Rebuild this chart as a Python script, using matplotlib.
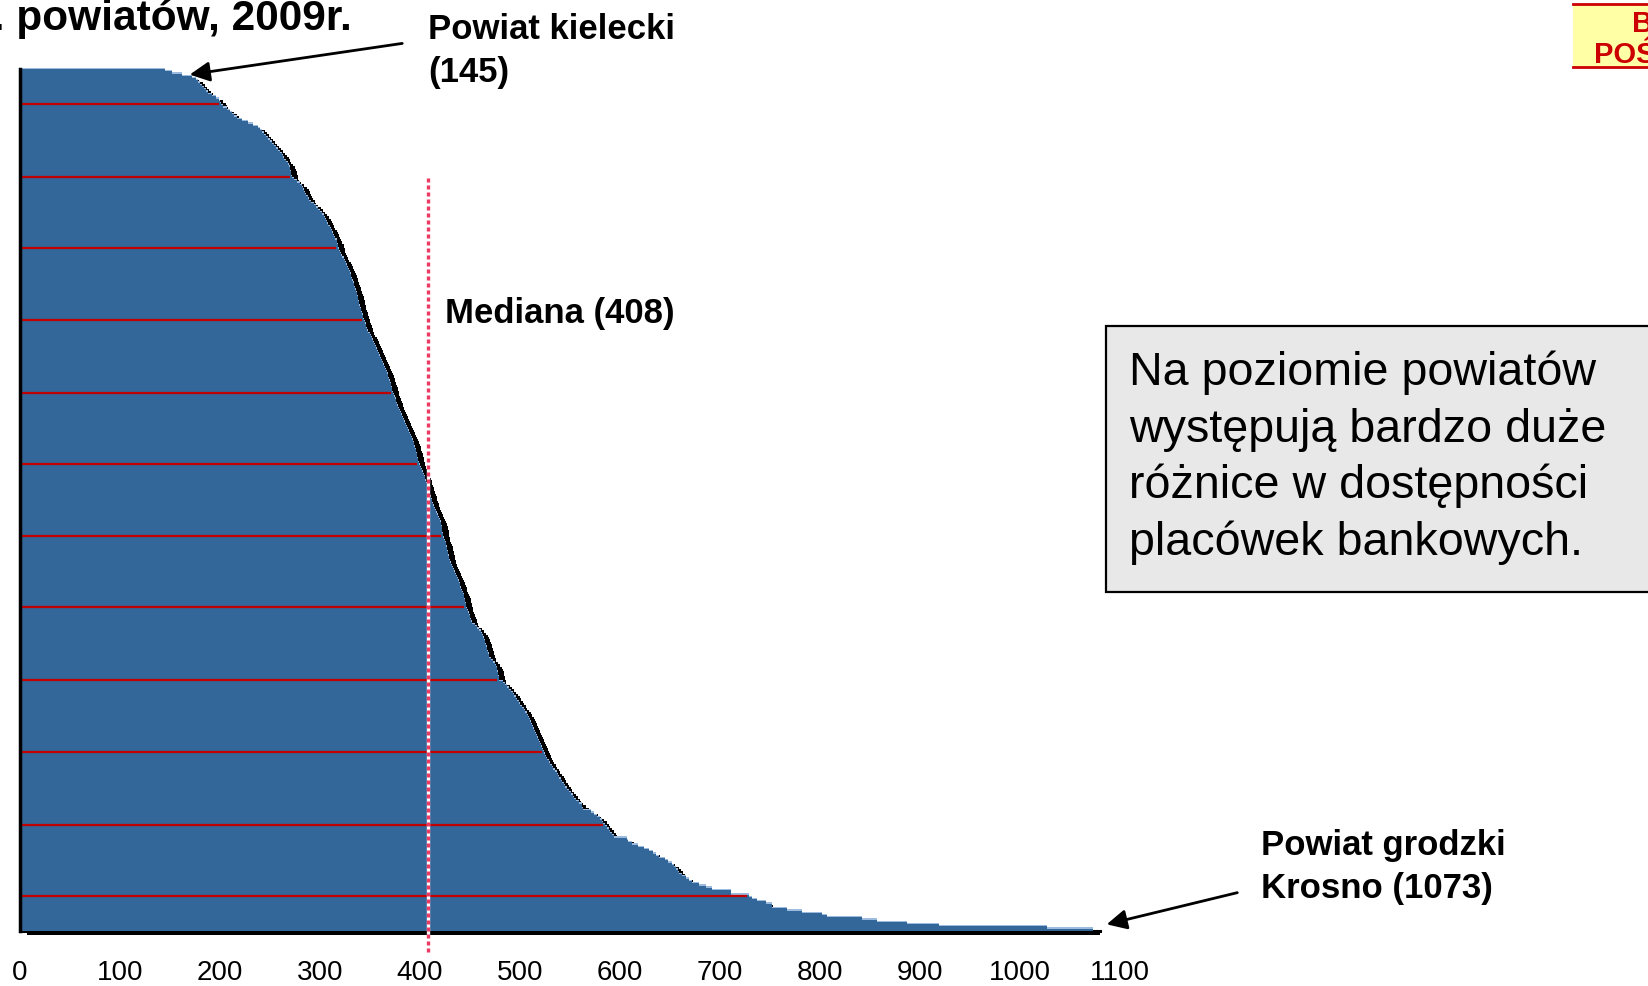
import matplotlib
matplotlib.use("Agg")
import matplotlib.pyplot as plt
from matplotlib import transforms, font_manager
from matplotlib.patches import Rectangle
import numpy as np

# ---------------- data ----------------
# one bar per powiat, sorted ascending (top = lowest value)
values = [
    145, 152, 162, 172, 176, 178, 180, 182, 184, 186,
    188, 192, 196, 199, 200, 201, 203, 207, 210, 212,
    214, 217, 222, 228, 233, 238, 240, 242, 244, 246,
    248, 250, 252, 254, 256, 258, 260, 262, 263, 264,
    266, 268, 269, 270, 270, 271, 271, 272, 274, 277,
    280, 282, 283, 284, 285, 286, 288, 289, 291, 294,
    296, 298, 300, 302, 304, 305, 306, 307, 308, 310,
    311, 312, 313, 314, 315, 317, 317, 318, 318, 319,
    320, 321, 322, 324, 325, 326, 327, 328, 329, 330,
    331, 331, 332, 333, 334, 334, 335, 336, 337, 337,
    338, 338, 339, 339, 340, 341, 341, 342, 343, 343,
    344, 345, 346, 346, 347, 348, 350, 351, 352, 353,
    354, 355, 356, 357, 358, 359, 360, 361, 362, 363,
    364, 365, 366, 367, 368, 368, 369, 370, 371, 371,
    372, 372, 373, 374, 375, 376, 376, 377, 378, 379,
    380, 381, 382, 383, 384, 385, 386, 387, 388, 389,
    390, 391, 392, 393, 394, 394, 395, 396, 396, 397,
    397, 398, 398, 399, 400, 401, 402, 403, 404, 405,
    405, 406, 407, 407, 408, 409, 410, 410, 411, 412,
    412, 413, 414, 415, 416, 417, 418, 419, 420, 421,
    421, 422, 422, 422, 423, 423, 424, 425, 426, 426,
    427, 427, 428, 428, 429, 429, 430, 431, 432, 433,
    434, 435, 436, 437, 438, 439, 440, 440, 441, 442,
    443, 444, 444, 445, 445, 446, 446, 447, 448, 449,
    450, 450, 451, 452, 455, 457, 459, 461, 462, 463,
    464, 465, 465, 466, 467, 467, 468, 469, 469, 471,
    473, 475, 476, 477, 477, 478, 478, 479, 479, 483,
    485, 487, 489, 491, 493, 494, 496, 497, 499, 500,
    502, 504, 505, 507, 508, 509, 510, 511, 512, 513,
    514, 515, 516, 517, 518, 519, 520, 521, 522, 523,
    524, 525, 526, 527, 529, 530, 532, 533, 535, 537,
    538, 539, 541, 542, 544, 545, 547, 549, 551, 553,
    554, 556, 559, 562, 562, 563, 571, 574, 577, 580,
    582, 583, 585, 587, 589, 590, 592, 594, 607, 608,
    612, 618, 624, 629, 633, 636, 639, 645, 648, 652,
    654, 656, 658, 659, 662, 666, 669, 672, 679, 686,
    692, 711, 711, 729, 732, 737, 746, 752, 752, 767,
    782, 802, 807, 842, 857, 887, 919, 1027, 1073,
]
# bars marked with a red line
marked_bars = [15, 47, 78, 110, 142, 173, 205, 236, 268, 300, 332, 363]
x_ticks = [0, 100, 200, 300, 400, 500, 600, 700, 800, 900, 1000, 1100]
median_value = 408

title_text = "Liczba mieszkańców na 1 placówkę bankową wg jedn. powiatów, 2009r."
min_label = ["Powiat kielecki", "(145)"]
max_label = ["Powiat grodzki", "Krosno (1073)"]
median_label = "Mediana (408)"
box_lines = ["Na poziomie powiatów", "występują bardzo duże",
             "różnice w dostępności", "placówek bankowych."]
corner_lines = ["BANKOWOŚĆ", "POŚREDNICTWO"]

# ---------------- fonts ----------------
names = {f.name for f in font_manager.fontManager.ttflist}
BASE = "Liberation Sans" if "Liberation Sans" in names else "DejaVu Sans"
plt.rcParams["font.family"] = [BASE, "DejaVu Sans"]

# ---------------- figure ----------------
W, H = 1648, 987
fig = plt.figure(figsize=(W / 100, H / 100), dpi=100)
fig.patch.set_facecolor("white")

def fx(px):
    return px / W

def fy(py):
    return 1 - py / H

ax = fig.add_axes([fx(20), (H - 932) / H, 1100 / W, 862 / H])
n = len(values)
idx = np.arange(n)

shadow_tr = transforms.offset_copy(ax.transData, fig=fig, x=7, y=-4, units="dots")
hl_tr = transforms.offset_copy(ax.transData, fig=fig, x=0, y=1.3, units="dots")

ax.barh(idx, values, height=1.0, color="black", linewidth=0,
        transform=shadow_tr, zorder=1, clip_on=False, antialiased=False)
ax.barh(idx, values, height=1.0, color="#9dbbdf", linewidth=0,
        transform=hl_tr, zorder=2, clip_on=False, antialiased=False)
ax.barh(idx, values, height=1.0, color="#336699", linewidth=0,
        zorder=3, antialiased=False)

ax.hlines(marked_bars, 0, [values[i] - 2 for i in marked_bars],
          color="#c00000", lw=1.6, zorder=4)

ax.set_xlim(0, 1100)
ax.set_ylim(n - 0.5, -0.5)

# median line
tv = transforms.blended_transform_factory(ax.transData, ax.transAxes)
ax.plot([median_value, median_value], [0.8735, -0.027], transform=tv,
        color="white", lw=2.4, zorder=6, clip_on=False, solid_capstyle="butt")
ax.plot([median_value, median_value], [0.8735, -0.027], transform=tv,
        color="#ee3a62", lw=2.4, zorder=7, clip_on=False,
        linestyle=(0, (1.2, 0.9)), dash_capstyle="butt")

# spines / ticks
for s in ["top", "right"]:
    ax.spines[s].set_visible(False)
ax.spines["left"].set_linewidth(2.5)
ax.spines["left"].set_color("black")
ax.spines["left"].set_zorder(8)
ax.spines["bottom"].set_linewidth(2.2)
ax.spines["bottom"].set_color("black")
ax.spines["bottom"].set_zorder(2.5)
ax.spines["bottom"].set_bounds(0, max(values) + 7)
ax.set_yticks([])
ax.set_xticks(x_ticks)
ax.set_xticklabels([str(t) for t in x_ticks])
ax.tick_params(axis="x", length=0, pad=20, labelsize=20)
ax.set_facecolor("none")

# ---------------- texts ----------------
fig.text(fx(352), fy(30), title_text, ha="right", va="baseline",
         fontsize=30.5, fontweight="bold", color="black")

fig.text(fx(428), fy(39), min_label[0], ha="left", va="baseline",
         fontsize=25, fontweight="bold")
fig.text(fx(428), fy(82), min_label[1], ha="left", va="baseline",
         fontsize=25, fontweight="bold")
fig.text(fx(445), fy(323), median_label, ha="left", va="baseline",
         fontsize=25, fontweight="bold")
fig.text(fx(1261), fy(855), max_label[0], ha="left", va="baseline",
         fontsize=25, fontweight="bold")
fig.text(fx(1261), fy(898), max_label[1], ha="left", va="baseline",
         fontsize=25, fontweight="bold")

# arrows
fig.add_artist(matplotlib.patches.FancyArrowPatch(
    (405, H - 44), (187, H - 76), transform=None,
    arrowstyle="-|>", mutation_scale=30, lw=2.0, color="black"))
fig.add_artist(matplotlib.patches.FancyArrowPatch(
    (1240, H - 893), (1104, H - 926), transform=None,
    arrowstyle="-|>", mutation_scale=30, lw=2.0, color="black"))

# grey text box
fig.add_artist(Rectangle((fx(1106), fy(593)), fx(1680) - fx(1106), fy(327) - fy(593),
                         transform=fig.transFigure, facecolor="#e8e8e8",
                         edgecolor="black", lw=1.6, clip_on=False))
for k, line in enumerate(box_lines):
    fig.text(fx(1129), fy(385 + 56.6 * k), line, ha="left", va="baseline",
             fontsize=33.6, color="black")

# yellow corner box
fig.add_artist(Rectangle((fx(1573), fy(68)), fx(1700) - fx(1573), fy(5) - fy(68),
                         transform=fig.transFigure, facecolor="#ffffa6",
                         edgecolor="none", clip_on=False))
fig.add_artist(matplotlib.lines.Line2D([fx(1573), 1.0], [fy(5), fy(5)],
                                       transform=fig.transFigure, color="#cc0000", lw=2))
fig.add_artist(matplotlib.lines.Line2D([fx(1573), 1.0], [fy(68), fy(68)],
                                       transform=fig.transFigure, color="#cc0000", lw=2))
fig.text(fx(1632), fy(31.7), corner_lines[0], ha="left", va="baseline",
         fontsize=21, fontweight="bold", color="#cc0000")
fig.text(fx(1594), fy(63), corner_lines[1], ha="left", va="baseline",
         fontsize=21, fontweight="bold", color="#cc0000")

fig.savefig("out.png", dpi=100)
